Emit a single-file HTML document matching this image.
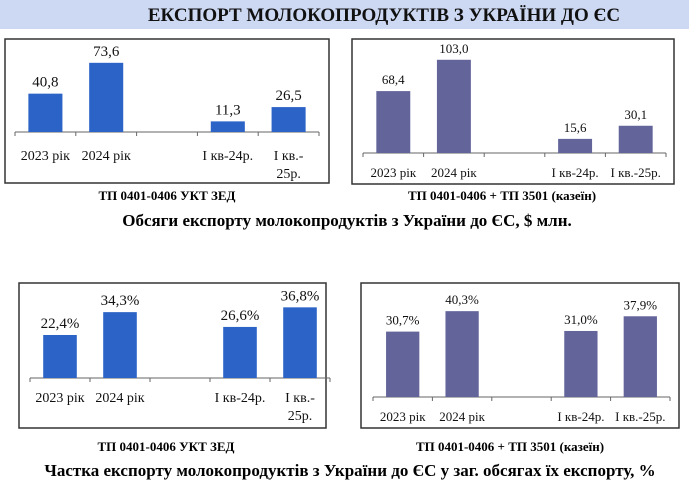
<!DOCTYPE html>
<html><head><meta charset="utf-8"><style>
html,body{margin:0;padding:0;background:#fff;}
body{width:689px;height:484px;overflow:hidden;font-family:"Liberation Serif",serif;}
svg text{font-family:"Liberation Serif",serif;}
</style></head><body>
<svg id="s" width="689" height="484" viewBox="0 0 689 484">
<rect x="0" y="0" width="689" height="29" fill="#cdd8f2"/>
<text x="384" y="21" text-anchor="middle" font-size="19" font-weight="bold" fill="#111">ЕКСПОРТ МОЛОКОПРОДУКТІВ З УКРАЇНИ ДО ЄС</text>
<text x="167" y="200" text-anchor="middle" font-size="13" font-weight="bold">ТП 0401-0406 УКТ ЗЕД</text>
<text x="502" y="200" text-anchor="middle" font-size="13" font-weight="bold">ТП 0401-0406 + ТП 3501 (казеїн)</text>
<text x="347" y="226" text-anchor="middle" font-size="17" font-weight="bold">Обсяги експорту молокопродуктів з України до ЄС, $ млн.</text>
<text x="166" y="451" text-anchor="middle" font-size="13" font-weight="bold">ТП 0401-0406 УКТ ЗЕД</text>
<text x="510" y="451" text-anchor="middle" font-size="13" font-weight="bold">ТП 0401-0406 + ТП 3501 (казеїн)</text>
<text x="350" y="476" text-anchor="middle" font-size="17" font-weight="bold">Частка експорту молокопродуктів з України до ЄС у заг. обсягах їх експорту, %</text>
</svg>
<script>
const categories = ["2023 рік","2024 рік","","І кв-24р.","І кв.-25р."];
const volumeUkt = [40.8, 73.6, null, 11.3, 26.5];
const volumeUktLabels = ["40,8","73,6","","11,3","26,5"];
const volumeCasein = [68.4, 103.0, null, 15.6, 30.1];
const volumeCaseinLabels = ["68,4","103,0","","15,6","30,1"];
const shareUkt = [22.4, 34.3, null, 26.6, 36.8];
const shareUktLabels = ["22,4%","34,3%","","26,6%","36,8%"];
const shareCasein = [30.7, 40.3, null, 31.0, 37.9];
const shareCaseinLabels = ["30,7%","40,3%","","31,0%","37,9%"];

const NS = "http://www.w3.org/2000/svg";
const svg = document.getElementById('s');
function mk(tag, attrs, parent){
  const e = document.createElementNS(NS, tag);
  for (const k in attrs) e.setAttribute(k, attrs[k]);
  (parent||svg).appendChild(e);
  return e;
}
function chart(name, cfg, values, labels){
  const g = mk('g', {});
  
  
  const box = mk('rect', {x:cfg.bx, y:cfg.by, width:cfg.bw, height:cfg.bh, fill:'#fff', stroke:'#333', 'stroke-width':1.5}, g);
  
  
  const n = categories.length;
  const step = (cfg.x1 - cfg.x0) / n;
  const xs = i => cfg.x0 + step * i;
  const ys = v => cfg.axisY - v * cfg.k;
  const ax = mk('line', {x1:cfg.x0, x2:cfg.x1, y1:cfg.axisY, y2:cfg.axisY, stroke:'#666', 'stroke-width':1}, g);
  
  
  for (let i = 0; i <= n; i++) {
    const t = mk('line', {x1:xs(i), x2:xs(i), y1:cfg.axisY, y2:cfg.axisY+4, stroke:'#666'}, g);
    
    
  }
  const bw = step * 0.56;
  for (let i = 0; i < n; i++) {
    const cx = xs(i) + step/2;
    if (values[i] != null) {
      const b = mk('rect', {x:cx-bw/2, y:ys(values[i]), width:bw, height:cfg.axisY-ys(values[i]), fill:cfg.color}, g);
      
      
      const l = mk('text', {x:cx, y:ys(values[i]) - 7, 'text-anchor':'middle', 'font-size':cfg.vfs, fill:'#111'}, g);
      l.textContent = labels[i];
      
      
    }
    if (!categories[i]) continue;
    const lines = (cfg.wrap && categories[i] === "І кв.-25р.") ? ["І кв.-","25р."] : [categories[i]];
    lines.forEach((s, j) => {
      const t = mk('text', {x:cx, y:cfg.labY + j*18, 'text-anchor':'middle', 'font-size':cfg.cfs, fill:'#111'}, g);
      t.textContent = s;
      
      
    });
  }
}
chart('volume-ukt-chart', {bx:5,by:39,bw:324,bh:144,x0:15,x1:319,axisY:132,k:0.94,color:'#2b63c6',labY:160,wrap:true,vfs:15,cfs:14}, volumeUkt, volumeUktLabels);
chart('volume-casein-chart', {bx:352,by:39,bw:322,bh:145,x0:363,x1:666,axisY:153,k:0.905,color:'#63649a',labY:177,wrap:false,vfs:13,cfs:13}, volumeCasein, volumeCaseinLabels);
chart('share-ukt-chart', {bx:19,by:283,bw:307,bh:145,x0:30,x1:330,axisY:378,k:1.92,color:'#2b63c6',labY:402,wrap:true,vfs:15,cfs:14}, shareUkt, shareUktLabels);
chart('share-casein-chart', {bx:361,by:283,bw:318,bh:145,x0:373,x1:670,axisY:397,k:2.13,color:'#63649a',labY:421,wrap:false,vfs:13,cfs:13}, shareCasein, shareCaseinLabels);
</script>
</body></html>
